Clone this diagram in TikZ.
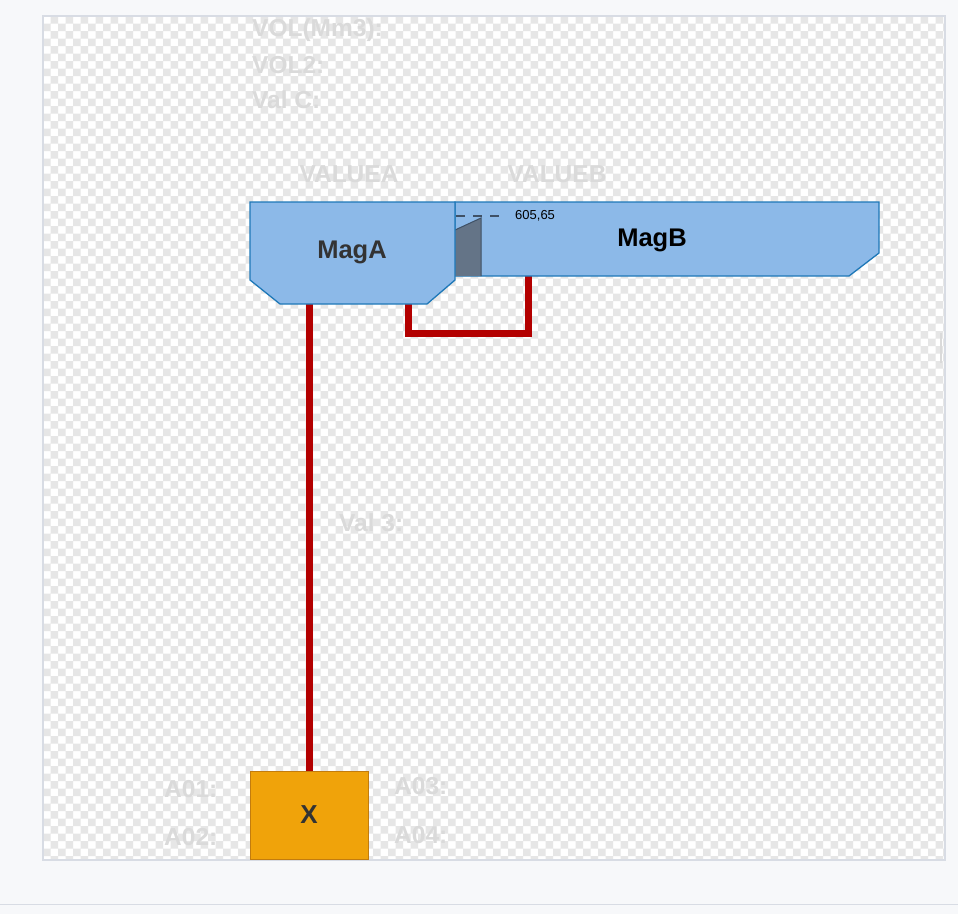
\documentclass[tikz,border=0pt]{standalone}
\usepackage{fontspec}
\setmainfont{Liberation Sans}
\definecolor{pagebg}{HTML}{F7F8FA}
\definecolor{frameln}{HTML}{D8DCE4}
\definecolor{ckgray}{HTML}{E6E6E6}
\definecolor{ghost}{HTML}{DADADA}
\definecolor{magfill}{HTML}{8CB9E8}
\definecolor{magdraw}{HTML}{1E78B8}
\definecolor{trapfill}{HTML}{647487}
\definecolor{trapdraw}{HTML}{3F5166}
\definecolor{pipe}{HTML}{B30000}
\definecolor{xfill}{HTML}{F0A30A}
\definecolor{xdraw}{HTML}{C27C0E}
\definecolor{darktext}{HTML}{333333}
\tikzset{
  ghosttext/.style={text=ghost,font=\bfseries\fontsize{24.5}{26}\selectfont,inner sep=0pt},
  magshape/.style={fill=magfill,draw=magdraw,line width=1.3pt,line join=miter},
  pipeline/.style={draw=pipe,line width=7pt,line join=miter},
  maglabel/.style={font=\bfseries\fontsize{25.5}{28}\selectfont,inner sep=0pt},
}
\begin{document}
\begin{tikzpicture}[x=1pt,y=-1pt]
\useasboundingbox (0,0) rectangle (958,914);
\fill[pagebg] (0,0) rectangle (958,914);
\draw[frameln,line width=1pt] (0,904) -- (958,904);
% canvas
\fill[white] (43,16) rectangle (945,860);
\begin{scope}
\clip (43,16) rectangle (945,860);
\fill[ckgray] foreach \yy in {0,15,...,855} { foreach \xx in {0,15,...,900} {
  (50.5+\xx,16+\yy) rectangle ++(7.5,7.5) (43+\xx,23.5+\yy) rectangle ++(7.5,7.5) } };
\end{scope}
\draw[frameln,line width=1.5pt] (43,16) rectangle (945,860);
\draw[ghost,line width=2pt] (941,333) -- (941,363);
% ghost labels
\node[ghosttext,anchor=west] (vol) at (252,30) {VOL(Mm3):};
\node[ghosttext,anchor=west] (vol2) at (252,65) {VOL2:};
\node[ghosttext,anchor=west] (valc) at (252,100) {Val C:};
\node[ghosttext] (valuea) at (349,174) {VALUEA};
\node[ghosttext] (valueb) at (557,174) {VALUEB};
\node[ghosttext,anchor=west] (val3) at (339,523) {Val 3:};
\node[ghosttext,anchor=west] (a01) at (164,789) {A01:};
\node[ghosttext,anchor=west] (a02) at (164,837) {A02:};
\node[ghosttext,anchor=west] (a03) at (394,786) {A03:};
\node[ghosttext,anchor=west] (a04) at (394,835) {A04:};
% connection points
\coordinate (magAout1) at (309,300);
\coordinate (magAout2) at (408,300);
\coordinate (loopL) at (408,333);
\coordinate (loopR) at (528,333);
\coordinate (magBin) at (528,272);
% X box
\node[draw=xdraw,fill=xfill,line width=1pt,minimum width=118pt,minimum height=88pt,
      text=darktext,font=\bfseries\fontsize{26}{28}\selectfont] (xbox) at (309,815) {X};
% pipes
\draw[pipeline] (magAout1) -- (xbox.north);
\draw[pipeline] (magAout2) -- (loopL) -- (loopR) -- (magBin);
% MagB
\draw[magshape] (455,202) -- (879,202) -- (879,253) -- (849,276) -- (455,276) -- cycle;
\fill[trapfill] (455,230) -- (481,218) -- (481,276) -- (455,276) -- cycle;
\draw[trapdraw,line width=1pt] (455,230) -- (481,218) -- (481,276);
% MagA
\draw[magshape] (250,202) -- (455,202) -- (455,280) -- (427,304) -- (280,304) -- (250,280) -- cycle;
% dashed level line
\draw[trapdraw,line width=2.5pt,dash pattern=on 9pt off 8pt] (456,216) -- (500,216);
\node[font=\fontsize{13}{15}\selectfont,anchor=west,inner sep=0pt] (level) at (515,216) {605,65};
\node[maglabel,text=darktext] (maga) at (352,252) {MagA};
\node[maglabel,text=black] (magb) at (652,240) {MagB};
\end{tikzpicture}
\end{document}
